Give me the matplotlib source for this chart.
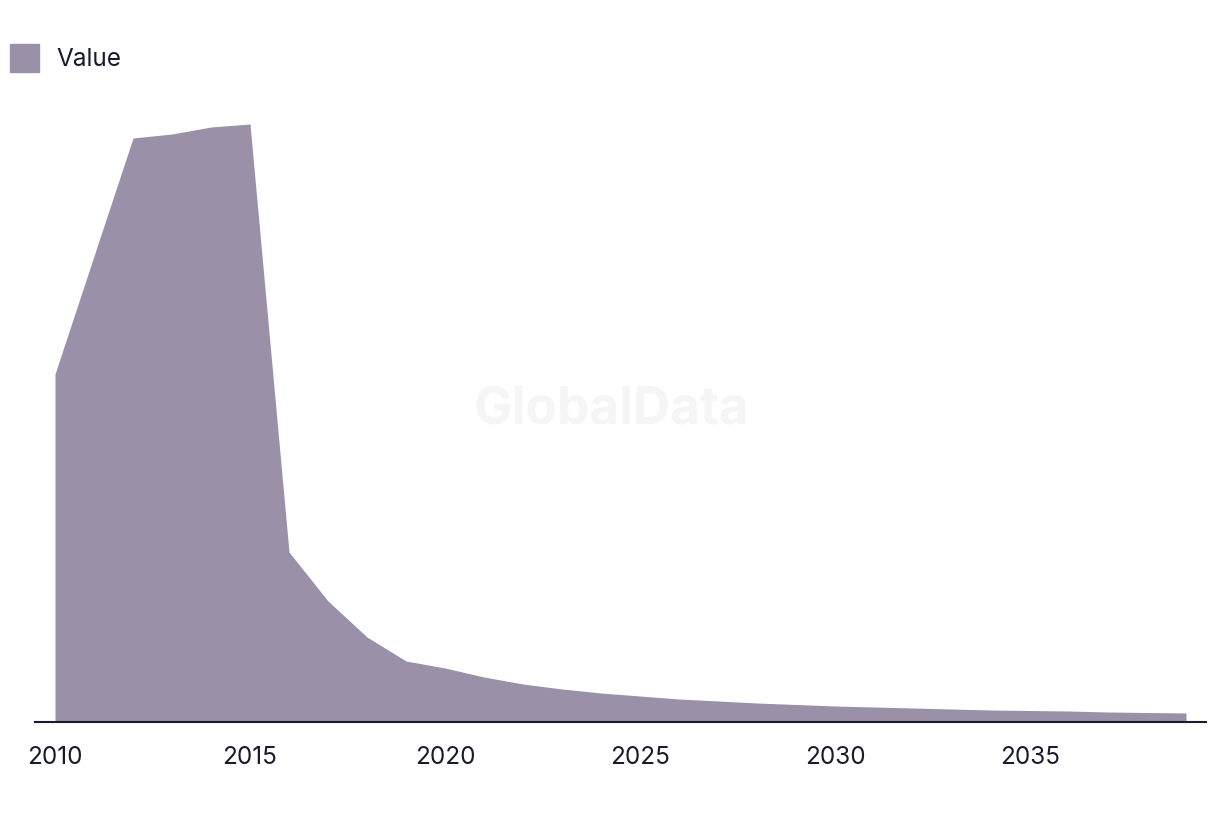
import matplotlib
matplotlib.use('Agg')
import matplotlib.pyplot as plt
from matplotlib.patches import Patch

plt.rcParams['font.family'] = ['Inter', 'DejaVu Sans']

# -- Data ---------------------------------------------------------------------
years = list(range(2010, 2040))
values = [348, 466, 584, 588, 595, 598, 170, 121, 85, 61,
          54, 45, 38, 33, 29, 26, 23, 21, 19, 17.5,
          16, 15, 14, 13, 12, 11.5, 11, 10, 9.5, 9]
tick_years = [2010, 2015, 2020, 2025, 2030, 2035]
series_name = "Value"

FILL = '#9A90A8'
INK = '#1a1a2e'

fig = plt.figure(figsize=(12.2, 8.14), dpi=100)
ax = fig.add_axes([35 / 1220, 92 / 814, 1171 / 1220, 622 / 814])

ax.fill_between(years, values, 0, color=FILL, linewidth=0)

ax.set_xlim(2010 - 20 / 39, 2039 + 20 / 39)
ax.set_ylim(0, 622)

for side in ('top', 'right', 'left'):
    ax.spines[side].set_visible(False)
ax.spines['bottom'].set_color(INK)
ax.spines['bottom'].set_linewidth(1.5)
ax.set_yticks([])
ax.set_xticks(tick_years)
ax.set_xticklabels([str(y) for y in tick_years])
ax.tick_params(axis='x', length=0, pad=17, labelsize=17.5, labelcolor=INK)

# watermark
ax.text(0.492, 0.5, 'GlobalData', transform=ax.transAxes, ha='center',
        va='center', fontsize=37, fontweight='bold', color='#f5f5f5',
        zorder=0)

fig.legend(handles=[Patch(color=FILL, label=series_name)],
           loc='upper left', bbox_to_anchor=(10 / 1220, 1 - 44 / 814),
           frameon=False, borderaxespad=0, borderpad=0,
           fontsize=17.5, handlelength=1.2, handleheight=1.4,
           handletextpad=0.7, labelcolor=INK)

fig.savefig('out.png', dpi=100)
